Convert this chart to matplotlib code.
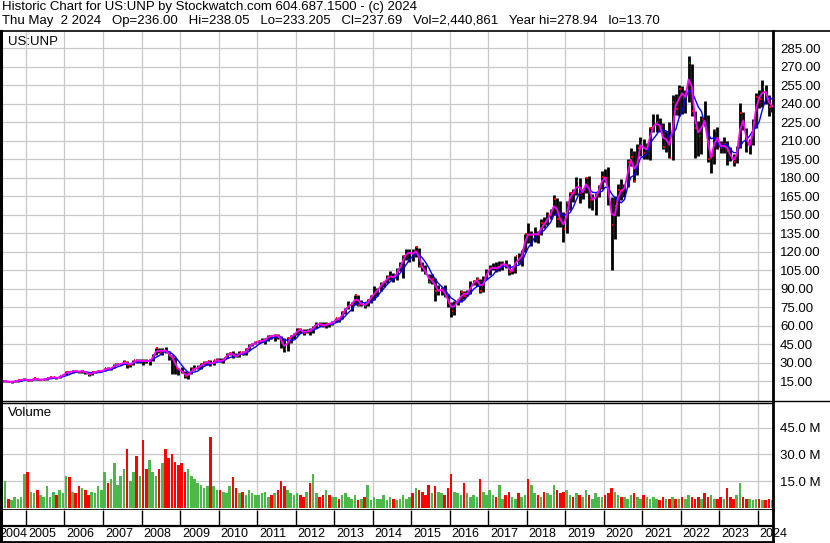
import numpy as np
import pandas as pd
import matplotlib
matplotlib.use('Agg')
import matplotlib.pyplot as plt
from matplotlib.lines import Line2D

plt.rcParams['font.family'] = ['Liberation Sans', 'DejaVu Sans']

symbol = 'US:UNP'
header1 = 'Historic Chart for US:UNP by Stockwatch.com 604.687.1500 - (c) 2024'
header2 = ('Thu May  2 2024   Op=236.00   Hi=238.05   Lo=233.205   Cl=237.69   '
           'Vol=2,440,861   Year hi=278.94   lo=13.70')

first_month = '2004-05-01'

# monthly close, one row per year (2004 starts in May, 2024 ends in May)
close = [
    14.8, 14.9, 14.1, 14.5, 14.7, 15.8, 15.9, 16.8,
    14.9, 16.2, 17.1, 16.0, 16.2, 16.2, 17.5, 17.9, 17.9, 17.4, 18.8, 20.1,
    22.6, 22.0, 23.3, 22.7, 22.6, 23.2, 21.3, 20.1, 22.0, 22.6, 22.9, 23.0,
    25.2, 25.0, 25.4, 28.5, 28.6, 28.8, 30.8, 28.3, 28.3, 32.0, 31.3, 31.4,
    31.3, 30.9, 31.3, 36.3, 41.4, 37.7, 41.2, 38.5, 35.6, 33.4, 25.2, 23.9,
    22.1, 18.8, 20.6, 24.6, 25.2, 26.0, 28.8, 29.3, 31.2, 27.6, 31.9, 31.9,
    30.3, 33.4, 36.7, 37.9, 35.4, 34.8, 38.9, 36.5, 40.9, 43.8, 45.3, 46.3,
    47.3, 47.5, 49.2, 51.7, 51.4, 52.2, 51.2, 46.0, 40.8, 49.8, 51.6, 53.0,
    57.2, 55.9, 53.8, 56.2, 55.6, 59.6, 61.4, 61.0, 59.3, 61.5, 61.4, 62.9,
    65.7, 64.8, 71.2, 73.9, 77.2, 77.2, 84.5, 76.8, 77.7, 75.7, 80.9, 84.0,
    87.1, 89.8, 93.8, 95.3, 99.6, 99.8, 98.3, 105.2, 108.4, 116.5, 118.9, 119.1,
    117.2, 123.4, 108.3, 106.2, 101.7, 95.4, 97.6, 87.8, 88.4, 89.4, 83.9, 78.2,
    71.9, 79.5, 79.5, 87.2, 84.2, 87.2, 93.1, 95.8, 97.5, 88.2, 98.0, 103.7,
    106.9, 106.9, 106.1, 109.0, 110.3, 108.9, 103.0, 105.2, 116.0, 110.7, 121.0, 134.1,
    133.6, 133.6, 134.4, 133.6, 142.9, 141.7, 149.9, 150.6, 162.8, 146.2, 145.7, 138.2,
    159.3, 167.7, 167.2, 177.0, 167.3, 169.1, 179.9, 162.0, 162.0, 165.5, 172.9, 180.8,
    179.4, 159.9, 141.2, 157.1, 169.9, 169.0, 173.4, 192.4, 196.9, 177.2, 204.0, 208.2,
    200.0, 205.7, 220.4, 222.4, 224.7, 219.9, 205.1, 216.8, 196.0, 241.4, 235.6, 251.9,
    244.6, 245.9, 273.2, 234.3, 219.8, 213.3, 227.3, 224.5, 194.8, 197.1, 217.4, 207.1,
    204.2, 207.0, 201.3, 195.7, 192.5, 204.6, 232.0, 220.6, 203.6, 207.6, 225.4, 245.6,
    244.0, 253.3, 245.9, 237.3, 237.7,
]

high = [
    15.2, 15.3, 15.0, 14.8, 15.1, 16.0, 16.6, 17.2,
    16.9, 16.7, 17.6, 17.3, 16.6, 16.6, 17.8, 18.3, 18.3, 18.1, 19.2, 20.5,
    23.2, 22.9, 23.6, 24.0, 23.4, 23.6, 23.4, 21.4, 22.4, 23.2, 23.6, 23.8,
    25.7, 26.3, 25.8, 28.8, 29.5, 29.8, 31.7, 30.9, 29.2, 32.4, 33.0, 32.7,
    32.6, 32.8, 32.6, 36.9, 41.7, 42.0, 41.6, 42.4, 39.6, 36.5, 34.4, 25.9,
    26.0, 23.1, 22.6, 26.3, 27.6, 27.7, 29.4, 31.1, 31.2, 31.7, 32.1, 33.4,
    33.4, 33.8, 37.7, 38.9, 39.6, 37.8, 39.1, 39.5, 41.6, 45.2, 46.0, 47.2,
    48.2, 49.5, 49.5, 52.0, 52.2, 53.1, 53.4, 51.5, 49.8, 50.8, 52.0, 54.0,
    58.0, 57.9, 56.8, 57.5, 58.3, 59.8, 62.5, 62.8, 63.0, 62.8, 62.2, 64.0,
    66.3, 67.2, 71.6, 74.4, 80.1, 79.3, 85.0, 84.8, 81.0, 78.8, 81.5, 84.5,
    91.7, 90.1, 95.0, 96.3, 101.3, 104.3, 102.3, 106.3, 111.9, 116.9, 121.9, 122.4,
    122.0, 124.5, 122.9, 111.5, 108.8, 101.6, 101.4, 98.3, 92.5, 91.4, 92.5, 85.5,
    78.8, 80.1, 81.6, 88.9, 88.0, 88.5, 96.0, 97.1, 99.2, 98.0, 100.4, 106.2,
    108.8, 110.4, 111.2, 112.2, 112.5, 113.0, 109.6, 105.9, 116.3, 118.5, 121.2, 134.3,
    143.1, 136.3, 139.7, 137.0, 146.2, 148.3, 152.0, 154.3, 165.6, 163.3, 160.6, 152.4,
    160.9, 168.0, 170.3, 180.5, 179.8, 170.4, 180.5, 181.3, 167.0, 167.6, 174.0, 185.4,
    187.3, 188.9, 164.0, 165.0, 174.9, 179.2, 174.7, 194.8, 203.8, 201.5, 207.0, 212.7,
    211.5, 207.7, 220.9, 231.3, 231.3, 227.9, 224.0, 218.0, 225.0, 247.0, 247.5, 255.0,
    254.6, 251.0, 278.9, 272.0, 234.0, 226.0, 230.0, 242.3, 231.0, 200.1, 219.5, 220.9,
    209.6, 212.5, 209.5, 204.8, 198.9, 205.9, 240.5, 233.0, 220.0, 211.3, 227.4, 248.8,
    250.9, 258.7, 255.0, 247.0, 238.1,
]

low = [
    13.9, 14.4, 13.9, 13.8, 14.2, 14.5, 15.4, 15.7,
    14.8, 14.9, 16.0, 15.8, 15.8, 15.8, 16.1, 17.3, 17.1, 16.6, 17.3, 18.7,
    20.0, 21.5, 21.7, 22.2, 21.3, 21.8, 20.8, 19.4, 20.0, 21.7, 22.1, 22.4,
    22.8, 24.4, 23.8, 25.2, 27.6, 28.0, 28.6, 25.8, 26.6, 28.0, 29.8, 29.7,
    27.9, 29.8, 28.0, 31.2, 36.2, 37.6, 35.8, 38.1, 31.7, 20.6, 21.0, 20.2,
    21.3, 17.6, 16.9, 20.6, 23.6, 24.8, 25.0, 28.1, 28.2, 27.0, 27.6, 31.0,
    30.1, 29.6, 33.3, 36.0, 33.3, 34.2, 34.6, 36.2, 36.3, 40.5, 43.1, 45.2,
    45.6, 46.5, 45.3, 47.6, 49.0, 47.2, 49.3, 41.5, 38.8, 39.5, 46.2, 49.1,
    52.5, 53.6, 52.0, 53.7, 52.0, 53.8, 57.9, 59.3, 58.5, 58.3, 59.0, 60.3,
    62.6, 62.5, 65.0, 69.4, 73.6, 72.0, 77.0, 76.2, 75.6, 73.9, 75.7, 78.5,
    80.9, 83.7, 87.6, 91.0, 94.7, 97.2, 95.0, 97.0, 104.4, 98.2, 113.4, 111.1,
    112.4, 115.3, 107.5, 104.4, 101.6, 94.8, 93.6, 79.5, 84.5, 84.6, 83.3, 75.2,
    67.1, 68.6, 76.3, 78.7, 81.6, 83.7, 85.7, 92.6, 92.2, 86.4, 87.0, 98.1,
    100.6, 104.8, 103.7, 104.2, 105.3, 107.0, 101.1, 101.7, 102.6, 109.7, 108.0, 119.5,
    126.6, 124.2, 127.6, 126.6, 133.1, 139.0, 141.8, 146.4, 149.6, 139.8, 140.2, 128.1,
    135.3, 153.8, 160.2, 165.9, 159.5, 162.7, 167.7, 155.4, 153.9, 149.3, 164.4, 170.9,
    176.6, 157.8, 105.1, 130.5, 148.8, 162.0, 164.6, 172.6, 189.2, 176.0, 182.0, 197.4,
    195.4, 195.0, 193.9, 216.6, 216.8, 216.6, 202.9, 200.9, 195.6, 194.5, 231.0, 230.0,
    231.5, 232.4, 241.0, 230.0, 195.7, 197.2, 198.9, 221.4, 192.8, 183.7, 191.2, 203.0,
    199.5, 200.2, 190.2, 193.4, 189.5, 191.4, 203.9, 218.6, 201.0, 199.3, 206.0, 220.0,
    236.0, 237.0, 240.0, 229.6, 233.2,
]

# monthly volume in millions of shares
volume = [
    6, 15, 5, 4, 6, 5, 6, 19,
    20, 9, 8, 10, 7, 6, 12, 6, 9, 7, 10, 8,
    18, 17, 9, 8, 12, 11, 10, 7, 9, 8, 12, 10,
    20, 14, 16, 25, 13, 18, 22, 33, 15, 20, 29, 18,
    38, 22, 27, 20, 18, 22, 25, 33, 28, 30, 26, 24,
    25, 20, 22, 18, 16, 14, 13, 11, 12, 40, 12, 10,
    10, 9, 8, 12, 17, 11, 8, 9, 7, 10, 8, 7,
    7, 8, 9, 6, 7, 8, 10, 15, 12, 10, 8, 7,
    8, 7, 6, 9, 14, 19, 8, 6, 7, 10, 7, 6,
    6, 5, 7, 8, 6, 5, 7, 4, 5, 6, 13, 4,
    6, 5, 5, 7, 4, 6, 5, 4, 5, 7, 5, 6,
    8, 11, 10, 9, 7, 13, 8, 12, 9, 8, 7, 11,
    19, 9, 8, 7, 14, 8, 6, 7, 6, 16, 9, 7,
    10, 7, 6, 13, 5, 7, 9, 6, 5, 8, 6, 7,
    16, 13, 8, 7, 6, 9, 8, 7, 13, 10, 8, 9,
    10, 7, 6, 8, 7, 6, 10, 7, 5, 8, 6, 6,
    7, 8, 11, 9, 7, 6, 6, 5, 7, 8, 6, 5,
    7, 6, 5, 6, 5, 4, 6, 5, 5, 6, 5, 5,
    6, 5, 7, 6, 5, 6, 5, 8, 6, 7, 5, 5,
    6, 5, 11, 6, 5, 7, 14, 6, 5, 5, 4, 5,
    5, 4, 4, 5, 4,
]

price_ticks = list(range(15, 286, 15))
volume_ticks = [15, 30, 45]
years = list(range(2004, 2025))

# ---------------------------------------------------------------
df = pd.DataFrame({'close': close, 'high': high, 'low': low, 'vol': volume})
dates = pd.date_range(first_month, periods=len(df), freq='MS')
df['x'] = dates.year + (dates.month - 0.5) / 12
df['ma_fast'] = df['close'].rolling(2, min_periods=1).mean()
df['ma_slow'] = df['close'].rolling(5, min_periods=1).mean()
up = df['close'].diff().fillna(0) >= 0
vol_colors = np.where(up, '#4cb84c', '#ff0000')

W, H = 830, 543
fig = plt.figure(figsize=(W / 100, H / 100), dpi=100)

def box(l, t, r, b):
    return [l / W, 1 - b / H, (r - l) / W, (b - t) / H]

xlim = (2004.325, 2024.40)
grid_kw = dict(color='#c8c8c8', lw=0.9, zorder=0)
fs = 9.5

# price panel
ax = fig.add_axes(box(0, 31, 773, 401))
ax.set_xlim(xlim)
ax.set_ylim(-1.2, 298.8)
for p in price_ticks:
    ax.axhline(p, **grid_kw)
for y in years[1:]:
    ax.axvline(y, **grid_kw)
ax.vlines(df['x'], df['low'], df['high'], color='black', lw=2.0, zorder=2)
ax.hlines(df['close'], df['x'] + 0.01, df['x'] + 0.045, color='red', lw=1.4, zorder=3)
ax.plot(df['x'], df['ma_slow'], color='#0000ff', lw=1.0, zorder=4)
ax.plot(df['x'], df['ma_fast'], color='#ff00ff', lw=1.3, zorder=5)
ax.set_xticks([])
ax.yaxis.tick_right()
ax.set_yticks(price_ticks)
ax.set_yticklabels([f'{p:.2f}' for p in price_ticks])
ax.tick_params(axis='y', length=0, pad=5, labelsize=fs)
ax.text(8 / 773, 1 - 11 / 370, symbol, transform=ax.transAxes, fontsize=fs, va='center')
for s in ['top', 'left']:
    ax.spines[s].set_visible(False)
ax.spines['right'].set_linewidth(2)
ax.spines['bottom'].set_linewidth(1)

# volume panel
axv = fig.add_axes(box(0, 402.5, 773, 510))
axv.set_xlim(xlim)
axv.set_ylim(-1.4, 59.4)
for v in volume_ticks:
    axv.axhline(v, **grid_kw)
for y in years[1:]:
    axv.axvline(y, **grid_kw)
axv.bar(df['x'], df['vol'], width=0.8 / 12, color=vol_colors, zorder=2)
axv.set_xticks([])
axv.yaxis.tick_right()
axv.set_yticks(volume_ticks)
axv.set_yticklabels([f'{v:.1f} M' for v in volume_ticks])
axv.tick_params(axis='y', length=0, pad=5, labelsize=fs)
axv.text(8 / 773, 1 - 11 / 107.5, 'Volume', transform=axv.transAxes, fontsize=fs, va='center')
axv.spines['left'].set_visible(False)
axv.spines['top'].set_linewidth(1)
axv.spines['right'].set_linewidth(2)
axv.spines['bottom'].set_linewidth(2)

# year strip
axx = fig.add_axes(box(0, 510, 773, 542))
axx.set_xlim(xlim)
axx.set_ylim(0, 2)
axx.axhline(1, color='black', lw=1.6)
axx.vlines(years[1:], 1, 2, color='black', lw=1)
for y in years:
    # first year box is only partly shown, its label starts at the left edge
    lx = y + 0.05 if y > xlim[0] else xlim[0] - 0.03
    axx.text(lx, 0.5, str(y), fontsize=9, va='center', ha='left', clip_on=False)
axx.set_xticks([])
axx.set_yticks([])
axx.spines['left'].set_visible(False)
axx.spines['top'].set_visible(False)
axx.spines['right'].set_linewidth(2)
axx.spines['bottom'].set_linewidth(2)

# frame lines and header
fig.add_artist(Line2D([0, 1], [1 - 31 / H] * 2, color='black', lw=1.2))
fig.add_artist(Line2D([773 / W, 1], [1 - 401 / H] * 2, color='black', lw=1))
fig.add_artist(Line2D([0.0012] * 2, [1 - 542 / H, 1 - 31 / H], color='black', lw=2.2))
fig.text(2 / W, 1 - 1 / H, header1, fontsize=fs, va='top', ha='left')
fig.text(2 / W, 1 - 15 / H, header2, fontsize=fs, va='top', ha='left')

fig.savefig('out.png', dpi=100, facecolor='white')
